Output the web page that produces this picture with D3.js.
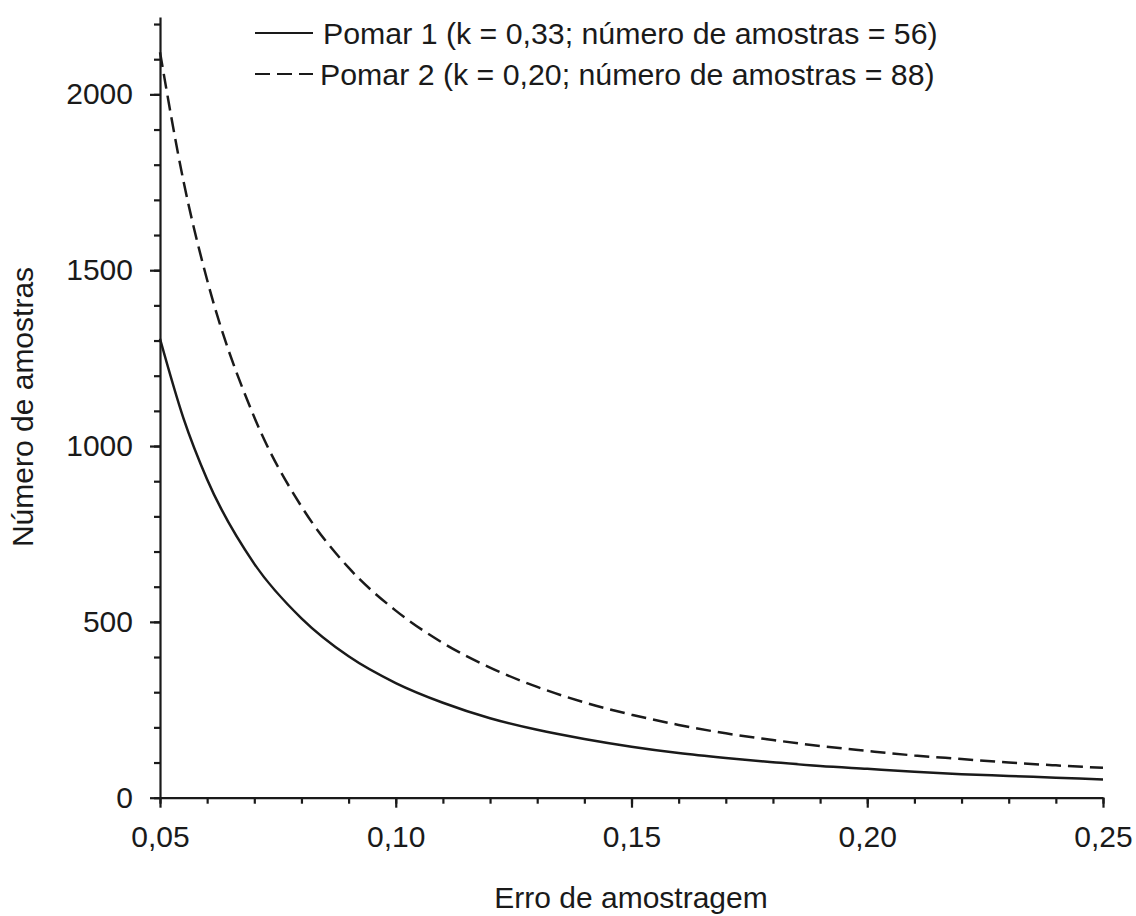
<!DOCTYPE html>
<html>
<head>
<meta charset="utf-8">
<script src="https://cdn.jsdelivr.net/npm/d3@7"></script>
<style>
  body { margin: 0; background: #fff; }
  text { font-family: "Liberation Sans", Arial, sans-serif; fill: #1a1a1a; }
</style>
</head>
<body>
<svg width="1136" height="916"></svg>
<script>
// Values
const erro = [0.05, 0.055, 0.06, 0.07, 0.08, 0.09, 0.10, 0.11, 0.12, 0.13, 0.14, 0.15,
              0.16, 0.17, 0.18, 0.19, 0.20, 0.21, 0.22, 0.23, 0.24, 0.25];
const pomar1 = [1305, 1078, 905, 665, 510, 402, 326, 270, 226, 193, 167, 145,
                127, 113, 101, 90, 82, 74, 67, 62, 57, 52];
const pomar2 = [2120, 1752, 1472, 1082, 828, 654, 532, 440, 370, 315, 271, 236,
                207, 183, 164, 147, 133, 120, 110, 100, 92, 85];
const legendLabels = [
  "Pomar 1 (k = 0,33; número de amostras = 56)",
  "Pomar 2 (k = 0,20; número de amostras = 88)"
];
const xMajor = [0.05, 0.10, 0.15, 0.20, 0.25];
const yMajor = [0, 500, 1000, 1500, 2000];

var svg = d3.select("svg");
var ink = "#1a1a1a";

svg.append("rect").attr("width", 1136).attr("height", 916).attr("fill", "#fff");

var x = d3.scaleLinear().domain([0.05, 0.25]).range([160, 1103]),
    y = d3.scaleLinear().domain([0, 2220]).range([797.7, 17]);

// comma as decimal mark
var pt = d3.formatLocale({decimal: ",", thousands: ".", grouping: [3], currency: ["R$", ""]});
var fmt = pt.format(".2f");

var xMinor = d3.range(5, 26).map(d => d / 100);
var yMinor = d3.range(0, 23).map(d => d * 100);

function styleAxis(g) {
  g.selectAll("path, line").attr("stroke", ink).attr("stroke-width", 2.2);
  g.selectAll("text").style("font-size", "30px").attr("fill", ink);
}

// minor ticks
svg.append("g")
    .attr("transform", "translate(0," + y(0) + ")")
    .call(d3.axisBottom(x).tickValues(xMinor).tickSize(6).tickSizeOuter(0).tickFormat(""))
    .call(styleAxis);
svg.append("g")
    .attr("transform", "translate(" + x(0.05) + ",0)")
    .call(d3.axisLeft(y).tickValues(yMinor).tickSize(6).tickSizeOuter(0).tickFormat(""))
    .call(styleAxis);

// major ticks + labels
svg.append("g")
    .attr("transform", "translate(0," + y(0) + ")")
    .call(d3.axisBottom(x).tickValues(xMajor).tickSize(10).tickSizeOuter(0).tickPadding(18).tickFormat(fmt))
    .call(styleAxis)
    .call(g => g.select(".domain").remove());
svg.append("g")
    .attr("transform", "translate(" + x(0.05) + ",0)")
    .call(d3.axisLeft(y).tickValues(yMajor).tickSize(10).tickSizeOuter(0).tickPadding(17).tickFormat(d3.format("d")))
    .call(styleAxis)
    .call(g => g.select(".domain").remove());

// axis titles
svg.append("text")
    .attr("x", 631).attr("y", 908)
    .attr("text-anchor", "middle")
    .style("font-size", "30px")
    .text("Erro de amostragem");
svg.append("text")
    .attr("transform", "translate(33,407) rotate(-90)")
    .attr("text-anchor", "middle")
    .style("font-size", "30px")
    .text("Número de amostras");

// curves
var series = [
  {id: "p1", values: pomar1, dash: null},
  {id: "p2", values: pomar2, dash: "15,7"}
];

var line = d3.line()
    .curve(d3.curveMonotoneX)
    .x(function(d, i) { return x(erro[i]); })
    .y(function(d) { return y(d); });

svg.selectAll(".curve")
    .data(series)
    .enter().append("path")
    .attr("class", "curve")
    .attr("d", function(d) { return line(d.values); })
    .attr("fill", "none")
    .attr("stroke", ink)
    .attr("stroke-width", 2.5)
    .attr("stroke-dasharray", function(d) { return d.dash; });

// legend
var legend = svg.append("g");
[33, 74].forEach(function(ly, i) {
  legend.append("line")
      .attr("x1", 255).attr("x2", 313)
      .attr("y1", ly).attr("y2", ly)
      .attr("stroke", ink).attr("stroke-width", 2.2)
      .attr("stroke-dasharray", series[i].dash);
  legend.append("text")
      .attr("x", i == 0 ? 323 : 320).attr("y", ly + 10.5)
      .style("font-size", "30.3px")
      .text(legendLabels[i]);
});
</script>
</body>
</html>
